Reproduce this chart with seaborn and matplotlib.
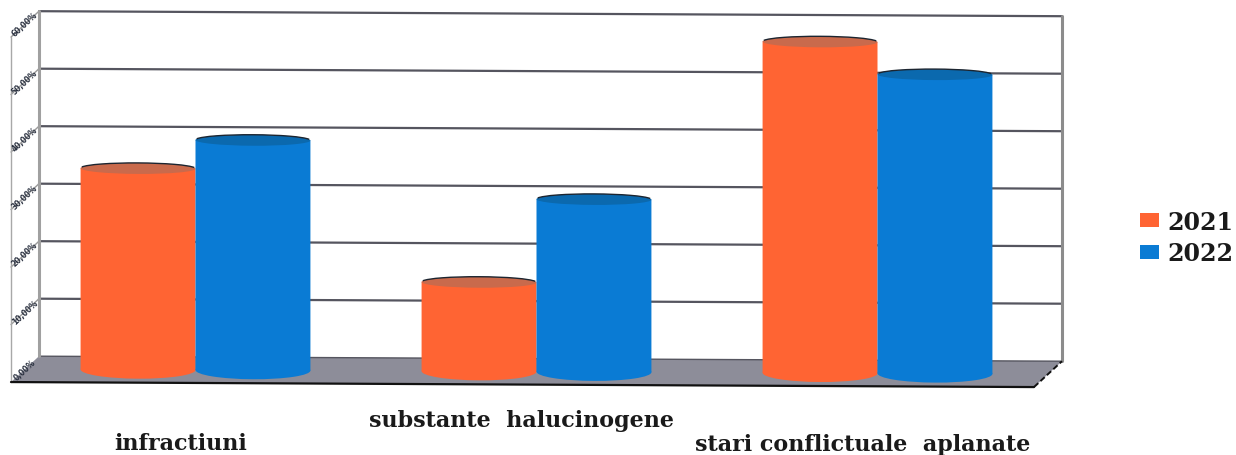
import numpy as np
import pandas as pd
import seaborn as sns
import matplotlib
matplotlib.use("Agg")
import matplotlib.pyplot as plt
from matplotlib.patches import Ellipse, Polygon, Arc
from matplotlib.transforms import Affine2D

categories = ["infractiuni", "substante  halucinogene", "stari conflictuale  aplanate"]
years = ["2021", "2022"]
values_2021 = [35, 15.5, 57.6]
values_2022 = [40, 30, 52]
y_ticks = [0, 10, 20, 30, 40, 50, 60]
y_tick_labels = ["0,00%", "10,00%", "20,00%", "30,00%", "40,00%", "50,00%", "60,00%"]

COL = {"2021": "#FF6433", "2022": "#0A7BD4"}
TOP = {"2021": "#C96A4C", "2022": "#0B69AE"}

df = pd.DataFrame({
    "cat": categories * 2,
    "year": [years[0]] * 3 + [years[1]] * 3,
    "val": values_2021 + values_2022,
})

W, H = 1236, 456
sns.set_theme(style="white")
fig = plt.figure(figsize=(W / 100, H / 100), dpi=100)
ax = fig.add_axes([25 / W, (H - 370) / H, (1048 - 25) / W, 345 / H])
sns.barplot(data=df, x="cat", y="val", hue="year", palette=COL, width=0.674,
            saturation=1, dodge=True, gap=0, errorbar=None, ax=ax, zorder=5,
            linewidth=0)
ax.set_xlim(-0.5, 2.5)
ax.set_ylim(0, 60)
ax.set_xlabel("")
ax.set_ylabel("")
for s in ax.spines.values():
    s.set_visible(False)

tilt = Affine2D().skew(0, np.arctan(-0.0049))
T = ax.transData + tilt
px_x = 3 / 1023
px_y = 60 / 345
DX, DY = 14 * px_x, 13 * px_y
xl, xr = -0.5, 2.5

# floor, walls, grid
floor = Polygon([(xl + DX, DY), (xr + DX, DY), (xr - DX, -DY), (xl - DX, -DY)],
                closed=True, fc="#8D8D99", ec="none", transform=T, clip_on=False, zorder=1)
ax.add_patch(floor)
ln = dict(transform=T, clip_on=False)
for v in y_ticks[1:]:
    ax.plot([xl + DX, xr + DX], [v + DY, v + DY], color="#55555F", lw=1.6, zorder=2, **ln)
    ax.plot([xl + DX, xl - DX], [v + DY, v - DY], color="#9A9A9A", lw=1.0, zorder=2, **ln)
ax.plot([xl + DX, xr + DX], [DY, DY], color="#55555F", lw=1.0, zorder=2, **ln)
ax.plot([xl + DX, xl + DX], [0 + DY, 60 + DY], color="#A0A0A0", lw=2.2, zorder=2, **ln)
ax.plot([xr + DX, xr + DX], [0 + DY, 60 + DY], color="#8C8C8C", lw=2.2, zorder=2, **ln)
ax.plot([xl - DX, xl - DX], [-DY, 60 - DY], color="#A8A8A8", lw=1.0, zorder=2, **ln)
ax.plot([xl - DX, xr - DX], [-DY, -DY], color="#111111", lw=1.6, zorder=2, **ln)
ax.plot([xr - DX, xr + DX], [-DY, DY], color="#111111", lw=1.4, ls=(0, (3, 1.5)), zorder=2, **ln)

# cylinders built on the seaborn bars
top_h = 11 * px_y
bot_h = 18 * px_y
z = 5
for container, yr in zip(ax.containers, years):
    for b in container:
        z += 2
        bx, bw, bh = b.get_x(), b.get_width(), b.get_height()
        b.set_transform(T)
        b.set_zorder(z)
        b.set_clip_on(False)
        cx = bx + bw / 2
        ax.add_patch(Ellipse((cx, 0), bw, bot_h, fc=COL[yr], ec="none", transform=T,
                             clip_on=False, zorder=z))
        ax.add_patch(Ellipse((cx, bh), bw, top_h, fc=TOP[yr], ec="none", transform=T,
                             clip_on=False, zorder=z + 0.5))
        ax.add_patch(Arc((cx, bh), bw, top_h, theta1=50, theta2=130, ec="#1c2530", lw=1.0,
                         transform=T, clip_on=False, zorder=z + 0.6))

# ticks
ax.set_yticks(y_ticks)
ax.set_yticklabels([])
ax.tick_params(axis="y", length=0)
for v, lab in zip(y_ticks, y_tick_labels):
    ax.annotate(lab, xy=(xl, v), xycoords=T, xytext=(0, 0), textcoords="offset pixels",
                fontsize=5.5, fontweight="bold", rotation=43, ha="center", va="center",
                rotation_mode="anchor", color="#2A3140", family="DejaVu Sans",
                annotation_clip=False, zorder=4)

serif = "DejaVu Serif"
ax.set_xticks([0, 1, 2])
ax.set_xticklabels(categories, fontfamily=serif, fontweight="bold", fontsize=16, color="#1A1A1A")
ax.tick_params(axis="x", length=0, pad=0)
drops = [63, 40, 64]
for tick, d in zip(ax.get_xticklabels(), drops):
    tick.set_transform(tick.get_transform() + Affine2D().translate(-15, -d))

h, l = ax.get_legend_handles_labels()
leg = ax.legend(h, l, loc="center left", bbox_to_anchor=(1140 / W, (H - 238.5) / H),
                bbox_transform=fig.transFigure, frameon=False, handlelength=0.8,
                handleheight=0.55, handletextpad=0.35, labelspacing=0.32, borderpad=0,
                borderaxespad=0, prop=dict(family=serif, weight="bold", size=17))
for t in leg.get_texts():
    t.set_color("#1A1A1A")

fig.savefig("out.png", dpi=100)
